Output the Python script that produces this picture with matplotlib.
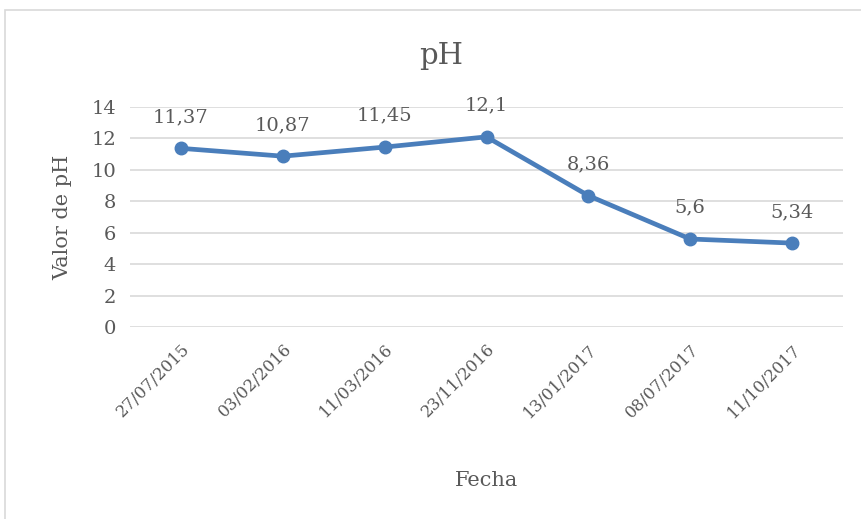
import matplotlib.pyplot as plt
from matplotlib.patches import Rectangle

fechas = ["27/07/2015", "03/02/2016", "11/03/2016", "23/11/2016",
          "13/01/2017", "08/07/2017", "11/10/2017"]
ph = [11.37, 10.87, 11.45, 12.1, 8.36, 5.6, 5.34]
ph_labels = ["11,37", "10,87", "11,45", "12,1", "8,36", "5,6", "5,34"]
y_ticks = [0, 2, 4, 6, 8, 10, 12, 14]

gray = "#595959"
blue = "#4a7ebb"
plt.rcParams['font.family'] = ['DejaVu Serif']

fig = plt.figure(figsize=(8.61, 5.19), dpi=100)
ax = fig.add_axes([130 / 861, 1 - 327 / 519, 713 / 861, 220 / 519])

# chart frame
fig.patches.append(Rectangle((5 / 861, -0.1), 1.1, 1 - 10 / 519 + 0.1,
                             transform=fig.transFigure, fill=False,
                             edgecolor="#d9d9d9", linewidth=1.2))

x = list(range(len(fechas)))
ax.plot(x, ph, color=blue, linewidth=3.4, marker="o", markersize=9, zorder=3)
for xi, yi, lab in zip(x, ph, ph_labels):
    ax.annotate(lab, (xi, yi), xytext=(0, 16), textcoords="offset points",
                ha="center", va="bottom", fontsize=14, color=gray)

ax.set_xlim(-0.5, len(fechas) - 0.5)
ax.set_ylim(0, 14)
ax.set_yticks(y_ticks)
ax.set_yticklabels([str(t) for t in y_ticks], fontsize=14, color=gray)
ax.set_xticks(x)
ax.set_xticklabels(fechas, rotation=45, ha="right", rotation_mode="anchor",
                   fontsize=12, color=gray)
ax.tick_params(length=0, pad=10)
ax.tick_params(axis="x", pad=10)
ax.grid(axis="y", color="#d9d9d9", linewidth=1.2)
ax.set_axisbelow(True)
for s in ax.spines.values():
    s.set_visible(False)

ax.set_ylabel("Valor de pH", fontsize=15, color=gray, labelpad=14)
fig.text(487 / 861, 1 - 480 / 519, "Fecha", ha="center", va="center",
         fontsize=15, color=gray)
fig.text(441 / 861, 1 - 56 / 519, "pH", ha="center", va="center",
         fontsize=21, color=gray)

plt.savefig("out.png", dpi=100)
